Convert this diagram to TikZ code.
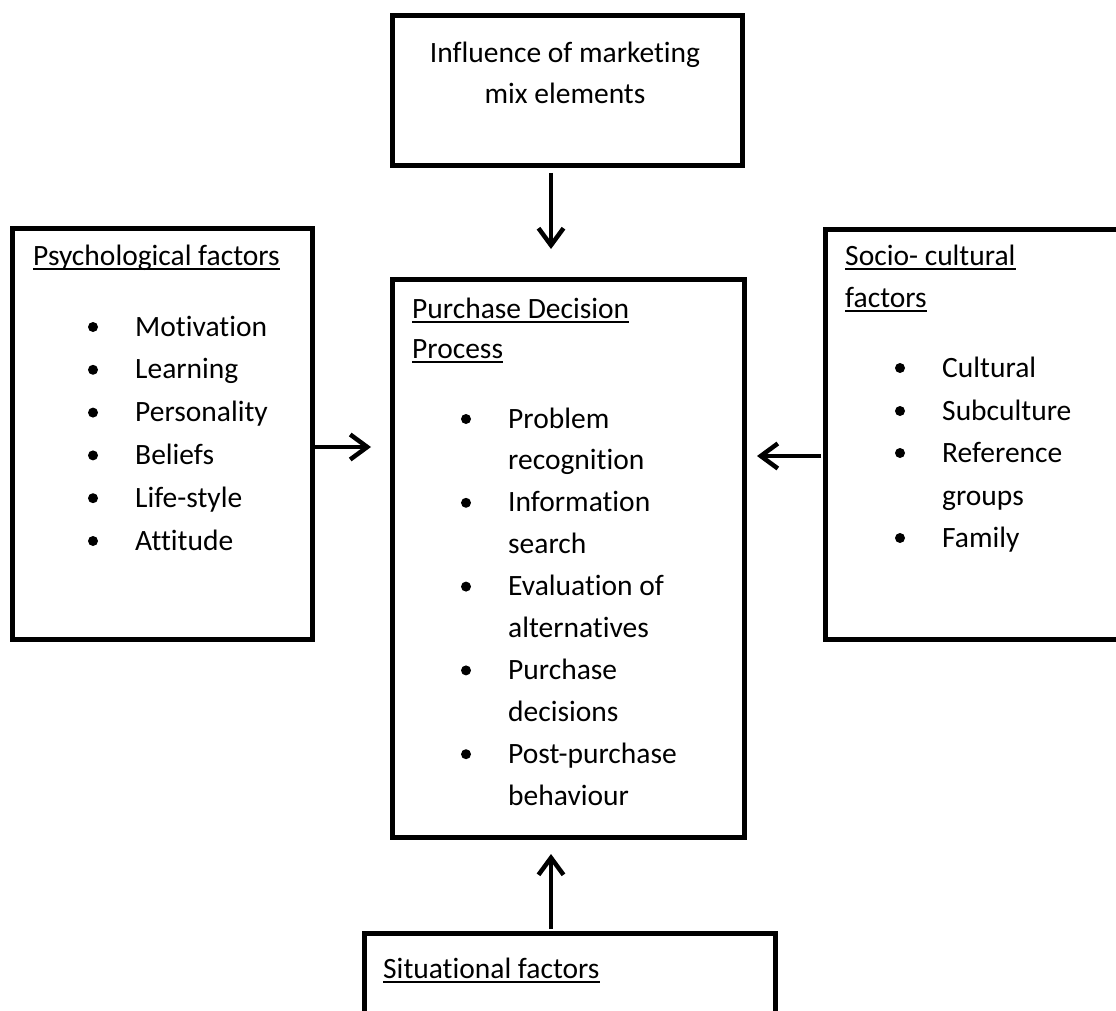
\documentclass[tikz,border=0pt]{standalone}
\usepackage{fontspec}
\setmainfont{Carlito}[Ligatures=CommonOff]
\usetikzlibrary{arrows.meta}
\begin{document}
\begin{tikzpicture}[x=1pt,y=-1pt,
  box/.style={draw, line width=5pt, rectangle, anchor=north west, inner sep=0pt},
  txt/.style={anchor=base west, inner sep=0pt, font=\fontsize{29.5}{43}\selectfont},
  ctxt/.style={anchor=base, inner sep=0pt, font=\fontsize{29.5}{43}\selectfont},
  dot/.style={circle, fill, inner sep=0pt, minimum size=10pt},
  arr/.style={line width=4.5pt, -{Straight Barb[length=17pt,width=25pt]}},
  uline/.style={line width=2pt}]
\useasboundingbox (0,0) rectangle (1116,1011);
% boxes
\node[box, minimum width=350pt, minimum height=150pt] (mix) at (390,13) {};
\node[box, minimum width=300pt, minimum height=411pt] (psy) at (10,226) {};
\node[box, minimum width=352pt, minimum height=558pt] (pdp) at (390,277) {};
\node[box, minimum width=320pt, minimum height=410pt] (soc) at (823,227) {};
\node[box, minimum width=411pt, minimum height=150pt] (sit) at (362,931) {};
% top box text
\node[ctxt] (m1) at (565,63) {Influence of marketing};
\node[ctxt] (m2) at (565,104) {mix elements};
% headings
\node[txt] (h1) at (33,265) {Psychological factors};
\node[txt] (h2a) at (845,265) {Socio- cultural};
\node[txt] (h2b) at (845,307) {factors};
\node[txt] (h3a) at (412,318) {Purchase Decision};
\node[txt] (h3b) at (412,358) {Process};
\node[txt] (h4) at (383,978) {Situational factors};
\foreach \h in {h1,h2a,h2b,h3a,h3b,h4}
  \draw[uline] ([yshift=-4pt]\h.base west) -- ([yshift=-4pt]\h.base east);
% psychological list
\foreach \t [count=\i from 0] in {Motivation,Learning,Personality,Beliefs,Life-style,Attitude} {
  \node[dot] (pb\i) at (93,{327+42.8*\i}) {};
  \node[txt] (pt\i) at (135,{336+42.8*\i}) {\t};
}
% socio-cultural list
\node[dot] (sb0) at (900,368) {};
\node[txt] (st0) at (942,377) {Cultural};
\node[dot] (sb1) at (900,411) {};
\node[txt] (st1) at (942,420) {Subculture};
\node[dot] (sb2) at (900,453) {};
\node[txt] (st2) at (942,462) {Reference};
\node[txt] (st3) at (942,505) {groups};
\node[dot] (sb4) at (900,538) {};
\node[txt] (st4) at (942,547) {Family};
% purchase decision list
\foreach \t [count=\i from 0] in {Problem,recognition,Information,search,Evaluation of,alternatives,Purchase,decisions,Post-purchase,behaviour} {
  \node[txt] (ct\i) at (508,{428+41.9*\i}) {\t};
}
\foreach \i in {0,2,4,6,8} {
  \node[dot] (cb\i) at (466,{419+41.9*\i}) {};
}
% arrows
\coordinate (a1s) at (551,173);
\coordinate (a1e) at (551,249);
\coordinate (a2s) at (312,447);
\coordinate (a2e) at (371,447);
\coordinate (a3s) at (821,456);
\coordinate (a3e) at (757,456);
\coordinate (a4s) at (551,929);
\coordinate (a4e) at (551,854);
\draw[arr] (a1s) -- (a1e);
\draw[arr] (a2s) -- (a2e);
\draw[arr] (a3s) -- (a3e);
\draw[arr] (a4s) -- (a4e);
\end{tikzpicture}
\end{document}
